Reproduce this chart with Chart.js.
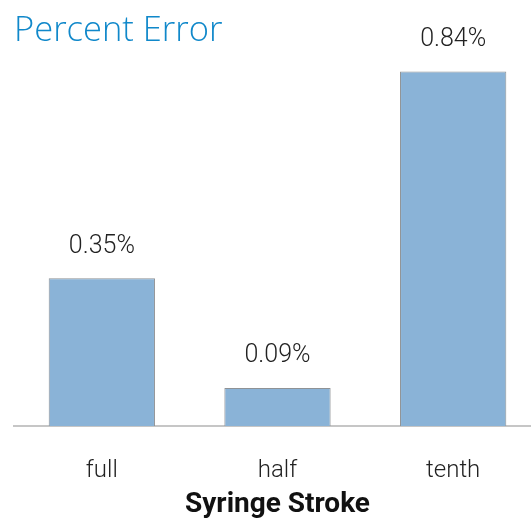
<!DOCTYPE html>
<html lang="en">
<head>
    <meta charset="UTF-8">
    <title>Percent Error</title>
    <script src="https://cdn.jsdelivr.net/npm/chart.js"></script>
    <style>
        html, body { margin: 0; padding: 0; background: #fff; overflow: hidden; }
        .wrap { position: relative; width: 541px; height: 519px; }
        .titulo {
            position: absolute; left: 14px; top: 11px;
            font-family: "Open Sans", sans-serif; font-weight: 300;
            font-size: 34.5px; line-height: 1; color: #1088ca; z-index: 2;
        }
    </style>
</head>
<body>
    <div class="wrap">
        <div class="titulo">Percent Error</div>
        <canvas id="grafico" width="541" height="519"></canvas>
    </div>

    <script>
        // dados
        const categorias = ['full', 'half', 'tenth'];
        const valores = [0.35, 0.09, 0.84];
        const rotulos = ['0.35%', '0.09%', '0.84%'];

        const fonte = 'Roboto, sans-serif';

        // escreve os valores por cima das barras
        const rotulosBarras = {
            id: 'rotulosBarras',
            afterDatasetsDraw(chart) {
                const ctx = chart.ctx;
                const barras = chart.getDatasetMeta(0).data;
                ctx.save();
                ctx.font = '300 25px ' + fonte;
                ctx.fillStyle = '#222';
                ctx.textAlign = 'center';
                ctx.textBaseline = 'middle';
                barras.forEach((b, i) => {
                    ctx.fillText(rotulos[i], b.x, b.y - 32);
                });
                ctx.restore();
            }
        };

        new Chart(document.getElementById('grafico'), {
            type: 'bar',
            data: {
                labels: categorias,
                datasets: [{
                    data: valores,
                    backgroundColor: '#8ab3d7',
                    borderColor: '#8f9295',
                    borderWidth: 1,
                    barPercentage: 1,
                    categoryPercentage: 0.605
                }]
            },
            options: {
                responsive: false,
                animation: false,
                layout: { padding: { left: 14, right: 0, top: 4, bottom: 0 } },
                plugins: {
                    legend: { display: false },
                    tooltip: { enabled: false }
                },
                scales: {
                    y: { display: false, min: 0, max: 1 },
                    x: {
                        afterFit(scale) { scale.height = 93; },
                        grid: { display: false },
                        border: { color: '#c6c6c6', width: 2 },
                        ticks: {
                            color: '#222',
                            padding: 23,
                            maxRotation: 0,
                            font: { family: fonte, size: 24, weight: 300 }
                        },
                        title: {
                            display: true,
                            text: 'Syringe Stroke',
                            color: '#111',
                            padding: { top: 0, bottom: 0 },
                            font: { family: fonte, size: 28, weight: 'bold', lineHeight: 1 }
                        }
                    }
                }
            },
            plugins: [rotulosBarras]
        });
    </script>
</body>
</html>
